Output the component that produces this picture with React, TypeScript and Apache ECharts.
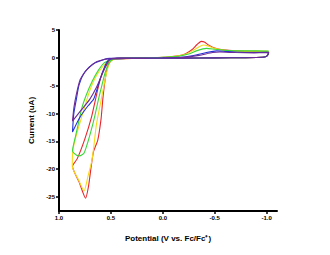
import React, { useEffect, useRef } from "react";
import * as echarts from "echarts";

// Shared forward-scan start (from the negative vertex toward positive potentials): [V, uA]
const startPath: number[][] = [
  [-1.02, 1.0], [-1.012, 0.55], [-0.995, 0.25], [-0.96, 0.1], [-0.8, 0.03],
  [-0.5, 0.0], [-0.2, -0.05], [0.1, -0.08], [0.3, -0.1], [0.42, -0.15],
];

const redLoop: number[][] = [
  [0.48, -0.3], [0.52, -0.8], [0.56, -1.8], [0.6, -3.6], [0.648, -7.45], [0.685, -10.5],
  [0.75, -14.5], [0.824, -18.1], [0.87, -19.5], [0.806, -22.3], [0.744, -25.2], [0.715, -23.0],
  [0.69, -19.5], [0.667, -16.8], [0.627, -14.8], [0.595, -11.0], [0.578, -7.45], [0.56, -4.5],
  [0.535, -1.9], [0.5, -0.5], [0.44, -0.1], [0.3, 0.0], [0.1, 0.05], [-0.05, 0.15],
  [-0.15, 0.35], [-0.22, 0.75], [-0.28, 1.45], [-0.33, 2.4], [-0.37, 2.95], [-0.4, 2.85],
  [-0.44, 2.3], [-0.5, 1.75], [-0.58, 1.45], [-0.7, 1.25], [-0.85, 1.15], [-1.0, 1.15], [-1.02, 1.1],
];

const yellowLoop: number[][] = [
  [0.48, -0.3], [0.53, -0.7], [0.58, -1.6], [0.64, -3.2], [0.69, -5.2], [0.731, -7.45],
  [0.78, -10.5], [0.824, -13.3], [0.855, -15.5], [0.868, -16.9], [0.872, -19.5], [0.815, -21.8],
  [0.759, -23.9], [0.72, -21.2], [0.685, -18.6], [0.667, -16.3], [0.639, -11.9], [0.593, -7.45],
  [0.546, -3.0], [0.51, -0.8], [0.46, -0.15], [0.3, 0.0], [0.1, 0.05], [-0.05, 0.15],
  [-0.15, 0.35], [-0.22, 0.65], [-0.29, 1.3], [-0.35, 2.0], [-0.39, 2.3], [-0.44, 2.1],
  [-0.5, 1.7], [-0.58, 1.4], [-0.7, 1.25], [-0.85, 1.2], [-1.0, 1.2], [-1.02, 1.15],
];

const greenLoop: number[][] = [
  [0.48, -0.2], [0.51, -0.4], [0.565, -0.9], [0.62, -2.2], [0.68, -4.2], [0.74, -6.8],
  [0.78, -9.0], [0.81, -11.5], [0.84, -14.0], [0.87, -16.7], [0.83, -17.5], [0.8, -17.6],
  [0.759, -17.1], [0.73, -15.6], [0.694, -13.3], [0.655, -10.4], [0.62, -7.45], [0.585, -4.8],
  [0.555, -2.6], [0.52, -1.0], [0.48, -0.25], [0.4, -0.05], [0.2, 0.0], [0.0, 0.1],
  [-0.15, 0.3], [-0.25, 0.7], [-0.33, 1.3], [-0.42, 1.7], [-0.5, 1.55], [-0.6, 1.35],
  [-0.75, 1.25], [-0.9, 1.25], [-1.02, 1.2],
];

const blueLoop: number[][] = [
  [0.51, -0.1], [0.574, -0.35], [0.667, -1.06], [0.75, -2.5], [0.806, -4.8], [0.833, -7.45],
  [0.858, -10.1], [0.87, -13.3], [0.8, -10.7], [0.72, -8.6], [0.667, -7.45], [0.62, -4.8],
  [0.565, -1.8], [0.52, -0.35], [0.45, -0.05], [0.2, -0.05], [0.0, 0.0], [-0.2, 0.15],
  [-0.32, 0.5], [-0.42, 0.95], [-0.52, 1.25], [-0.6, 1.15], [-0.72, 1.0], [-0.88, 0.95], [-1.02, 1.0],
];

const purpleLoop: number[][] = [
  [0.528, -0.18], [0.639, -0.7], [0.731, -2.1], [0.796, -3.9], [0.833, -6.56], [0.856, -8.9],
  [0.87, -11.35], [0.787, -9.4], [0.704, -7.45], [0.639, -5.3], [0.574, -2.5], [0.528, -0.7],
  [0.49, -0.1], [0.4, -0.03], [0.0, 0.0], [-0.2, 0.1], [-0.35, 0.45], [-0.48, 0.95],
  [-0.55, 1.05], [-0.7, 0.95], [-0.88, 0.9], [-1.02, 0.95],
];

const loops = [
  { name: "red", color: "#E8262C", data: redLoop },
  { name: "yellow", color: "#F7DC1A", data: yellowLoop },
  { name: "green", color: "#3AD83A", data: greenLoop },
  { name: "blue", color: "#2230D8", data: blueLoop },
  { name: "purple", color: "#6E2C96", data: purpleLoop },
];

const xTicks = [1.0, 0.5, 0.0, -0.5, -1.0];
const yTicks = [5, 0, -5, -10, -15, -20, -25];

export default function App() {
  const ref = useRef<HTMLDivElement>(null);
  useEffect(() => {
    if (!ref.current) return;
    const chart = echarts.init(ref.current, null, { renderer: "svg" });
    const font = "Liberation Sans, Arial, sans-serif";
    chart.setOption({
      animation: false,
      grid: { left: 51, right: 45, top: 22, bottom: 34 },
      xAxis: {
        type: "value",
        inverse: true,
        min: -1.1,
        max: 1.0,
        name: "Potential (V vs. Fc/Fc\u207A)",
        nameLocation: "middle",
        nameGap: 23,
        nameTextStyle: { fontFamily: font, fontWeight: "bold", fontSize: 8, color: "#000" },
        axisLine: { show: true, onZero: false, lineStyle: { color: "#000", width: 2 } },
        axisTick: { show: true, customValues: xTicks, length: 3, lineStyle: { color: "#000", width: 1.5 } },
        axisLabel: {
          customValues: xTicks,
          formatter: (v: number) => (Math.abs(v) < 1e-9 ? "0.0" : v.toFixed(1)),
          fontFamily: font, fontWeight: "bold", fontSize: 6, color: "#000", margin: 4,
        },
        splitLine: { show: false },
      },
      yAxis: {
        type: "value",
        min: -27.5,
        max: 5,
        name: "Current (uA)",
        nameLocation: "middle",
        nameGap: 24,
        nameTextStyle: { fontFamily: font, fontWeight: "bold", fontSize: 8, color: "#000" },
        axisLine: { show: true, onZero: false, lineStyle: { color: "#000", width: 2 } },
        axisTick: { show: true, customValues: yTicks, length: 3, lineStyle: { color: "#000", width: 1.5 } },
        axisLabel: {
          customValues: yTicks,
          fontFamily: font, fontWeight: "bold", fontSize: 6, color: "#000", margin: 4,
        },
        splitLine: { show: false },
      },
      series: loops.map((l) => ({
        type: "line",
        name: l.name,
        data: [...startPath, ...l.data],
        showSymbol: false,
        smooth: 0.2,
        lineStyle: { color: l.color, width: 1.1 },
        itemStyle: { color: l.color },
      })),
    });
    return () => chart.dispose();
  }, []);
  return <div ref={ref} style={{ width: 314, height: 239 }} />;
}
